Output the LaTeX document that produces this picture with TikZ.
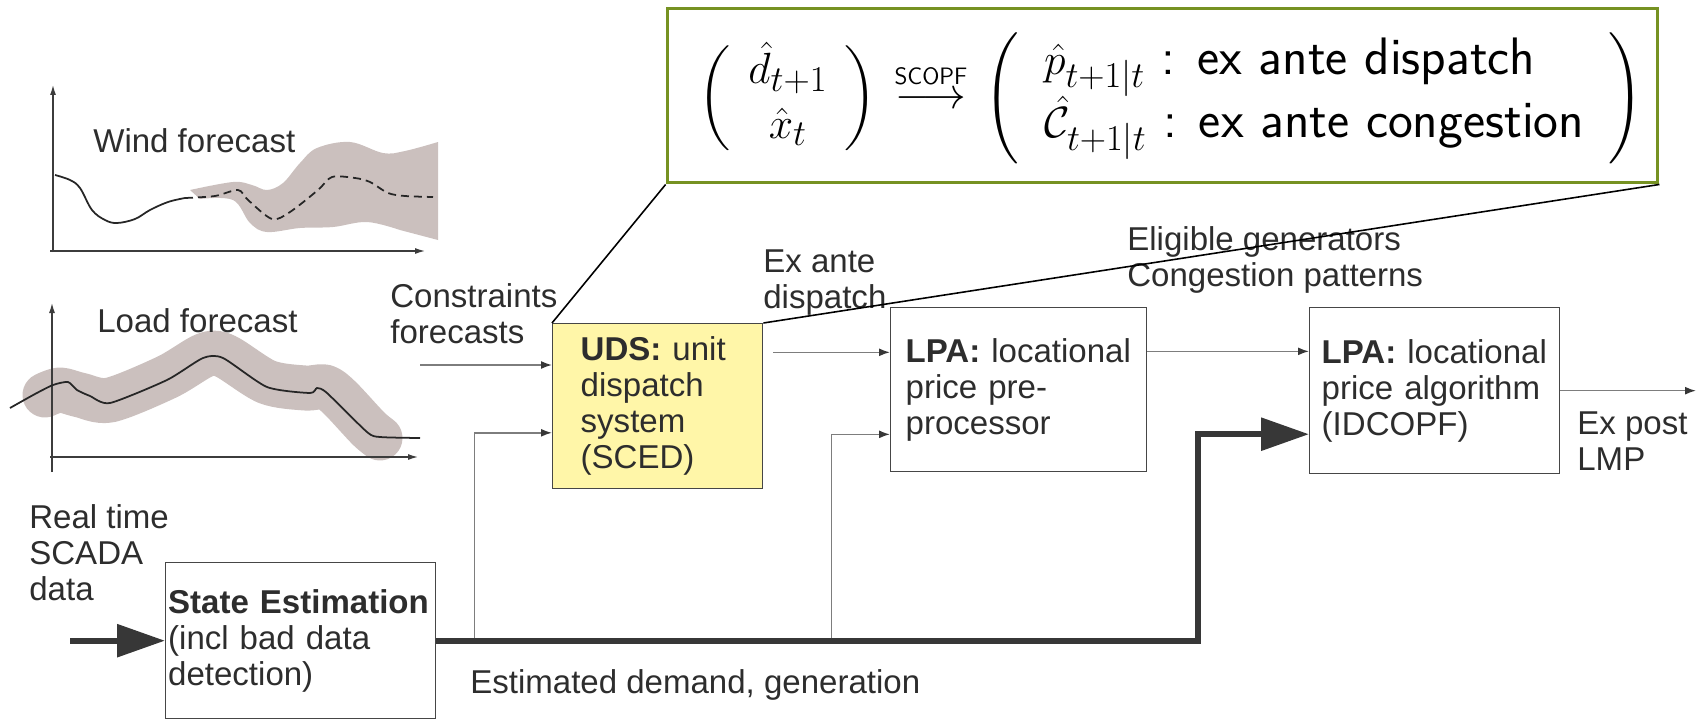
\documentclass[tikz,border=0pt]{standalone}
\usepackage{amsmath}
\usepackage{fontspec}
\usetikzlibrary{arrows.meta,calc}
\newfontfamily\arial{Liberation Sans}

\begin{document}
\begin{tikzpicture}[x=0.02cm, y=-0.02cm,
	txt/.style={anchor=north west, inner sep=0pt, align=left, text=textgray, font=\arial\fontsize{18.8}{20.5}\selectfont},
	block/.style={draw=boxgray, line width=0.8pt, anchor=north west, inner sep=0pt, align=left, text=textgray, font=\arial\fontsize{18.8}{20.5}\selectfont},
	flow/.style={draw=linegray, line width=0.9pt, -{Latex[length=0.22cm,width=0.16cm,color=darkline]}},
	bigflow/.style={draw=darkline, line width=3.4pt, -{Triangle[length=0.96cm,width=0.64cm]}},
	axis/.style={draw=axisgray, line width=0.7pt, -{Latex[length=0.2cm,width=0.12cm]}},
	curve/.style={draw=black!85, line width=1pt}]
	\definecolor{textgray}{RGB}{45,45,45}
	\definecolor{boxgray}{RGB}{70,70,70}
	\definecolor{linegray}{RGB}{125,125,125}
	\definecolor{darkline}{RGB}{55,55,55}
	\definecolor{axisgray}{RGB}{60,60,60}
	\definecolor{bandgray}{RGB}{203,192,190}
	\definecolor{udsyellow}{RGB}{255,246,168}
	\definecolor{zoomgreen}{RGB}{118,146,34}

	\useasboundingbox (0,0) rectangle (1696,720);

	% wind forecast
	\fill[bandgray] plot[smooth, tension=0.6] coordinates {(190,190) (233,182) (252,185) (267,190) (283,183) (300,163) (317,148) (350,142) (383,153) (405,151) (438,142)}
		-- (438,240) -- plot[smooth, tension=0.6] coordinates {(400,230) (367,222) (333,227) (300,228) (267,232) (250,223) (233,200) (200,199)} -- cycle;
	\draw[axis] (53,252) -- (53,85);
	\draw[axis] (50,251) -- (425,251);
	\draw[curve] plot[smooth, tension=0.6] coordinates {(55,175) (70,180) (80,188) (92,210) (105,220) (117,223) (135,219) (150,210) (168,202) (185,198)};
	\draw[curve, dash pattern=on 0.16cm off 0.1cm] plot[smooth, tension=0.5] coordinates {(185,198) (215,196) (238,190) (248,200) (272,219) (290,212) (318,190) (332,177) (355,178) (370,182) (388,193) (405,196) (433,197)};
	\node[txt] (wind) at (93,128) {Wind forecast};

	% load forecast
	\draw[bandgray, line width=0.9cm, line cap=round, line join=round] plot[smooth, tension=0.5] coordinates {(45,395) (60,390) (80,395) (110,400) (167,377) (205,355) (225,356) (267,382) (305,388) (325,387) (340,398) (368,428) (380,438)};
	\draw[axis] (52,472) -- (52,303);
	\draw[axis] (50,457) -- (418,457);
	\draw[curve] plot[smooth, tension=0.4] coordinates {(10,408) (35,394) (53,385) (68,382) (77,390) (90,396) (110,403) (167,380) (203,358) (223,358) (267,387) (310,393) (317,388) (327,393) (367,432) (380,437) (420,438)};
	\node[txt] (load) at (97,308) {Load forecast};

	% blocks
	\node[block, minimum width=5.4cm, minimum height=3.12cm, text width=5.3cm] (se) at (165,562)
		{\mbox{\bfseries State Estimation}\\(incl bad data\\detection)};
	\node[block, fill=udsyellow, minimum width=4.2cm, minimum height=3.3cm, text width=3.08cm] (uds) at (552,323)
		{{\bfseries UDS:} unit\\dispatch\\system\\(SCED)};
	\node[block, minimum width=5.12cm, minimum height=3.28cm, text width=4.52cm] (lpa1) at (890,307)
		{{\bfseries LPA:} locational\\price pre-\\processor};
	\node[block, minimum width=5.0cm, minimum height=3.32cm, text width=4.52cm] (lpa2) at (1309,307)
		{{\bfseries LPA:} locational\\price algorithm\\(IDCOPF)\\[0.3cm]};

	% labels
	\node[txt] (cons) at (390,283) {Constraints\\forecasts};
	\node[txt] (exante) at (763,249) {Ex ante\\dispatch};
	\node[txt] (elig) at (1127,226) {Eligible generators\\Congestion patterns};
	\node[txt] (expost) at (1577,411) {Ex post\\LMP};
	\node[txt] (scadatxt) at (29,504) {Real time\\SCADA\\data};
	\node[txt] (estim) at (470,669) {Estimated demand, generation};

	% zoom box
	\node[draw=zoomgreen, line width=1.7pt, fill=white, minimum width=19.82cm, minimum height=3.5cm, inner sep=0pt] (zoom) at (1162.5,95.5) {};
	\draw[line width=0.9pt] (uds.north west) -- (zoom.south west);
	\draw[line width=0.9pt] (uds.north east) -- (zoom.south east);
	\node[inner sep=0pt, font=\fontsize{30}{31}\selectfont] (formula) at (1171,98)
		{$\setlength{\arraycolsep}{10pt}\left(\begin{array}{c}\hat{d}_{t+1}\\ \hat{x}_t\end{array}\right)
		\hspace{3pt}\overset{\textsf{\fontsize{13.5}{14}\selectfont SCOPF}}{\longrightarrow}\hspace{3pt}
		\setlength{\arraycolsep}{14pt}\left(\begin{array}{l}\hat{p}_{t+1|t}\textsf{ : ex ante dispatch}\\ \hat{\mathcal{C}}_{t+1|t}\textsf{ : ex ante congestion}\end{array}\right)$};

	% connectors
	\coordinate (cin) at (420,365);
	\coordinate (scada) at (70,640);
	\coordinate (out) at (1696,390);
	\coordinate (u2) at ($(uds.north west)!0.66!(uds.south west)$);
	\coordinate (a1) at ($(lpa1.north west)!0.274!(lpa1.south west)$);
	\coordinate (b1) at ($(lpa1.north west)!0.77!(lpa1.south west)$);
	\coordinate (a2) at ($(lpa2.north west)!0.265!(lpa2.south west)$);
	\coordinate (a3) at ($(lpa2.north west)!0.76!(lpa2.south west)$);
	\coordinate (turn) at ($(a3)+(-111,0)$);
	\coordinate (j1) at ($(se.east)+(38,0)$);
	\coordinate (j2) at ($(se.east)+(395,0)$);

	\draw[flow] (cin) -- (cin -| uds.west);
	\draw[flow] (j1) |- (u2);
	\draw[flow] (j2) |- (b1);
	\draw[flow] ([xshift=0.2cm]a1 -| uds.east) -- (a1);
	\draw[flow] (a2 -| lpa1.east) -- (a2);
	\draw[flow] (lpa2.east) -- (out |- lpa2.east);
	\draw[bigflow] (scada |- se.west) -- (se.west);
	\draw[bigflow] (se.east) -| (turn) -- (a3);
\end{tikzpicture}
\end{document}
